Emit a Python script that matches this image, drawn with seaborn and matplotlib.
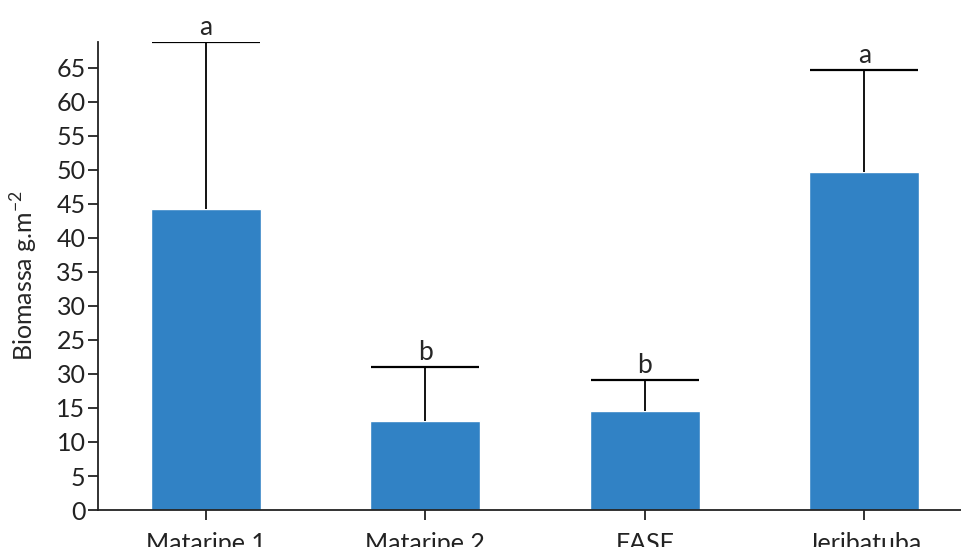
import matplotlib
matplotlib.use("Agg")

import matplotlib.pyplot as plt
import seaborn as sns
import pandas as pd

sites = ["Mataripe 1", "Mataripe 2", "FASF", "Jeribatuba"]
biomass = [44.3, 13.1, 14.6, 49.7]
err_up = [24.5, 7.9, 4.5, 15.0]
letters = ["a", "b", "b", "a"]
yticks = [0, 5, 10, 15, 20, 25, 30, 35, 40, 45, 50, 55, 60, 65]
# the original figure prints "30" at the 20 mark
ytick_labels = ["0", "5", "10", "15", "30", "25", "30", "35", "40", "45",
                "50", "55", "60", "65"]

sns.set_theme(style="ticks")
plt.rcParams["font.family"] = ["Lato", "DejaVu Sans"]

df = pd.DataFrame({"site": sites, "biomass": biomass})

fig = plt.figure(figsize=(9.61, 5.47), dpi=100)
ax = fig.add_axes([0.102, 0.0676, 0.898, 0.8556])

sns.barplot(data=df, x="site", y="biomass", color="#3182c5", saturation=1,
            width=0.5, ax=ax)
eb = ax.errorbar(range(len(sites)), biomass, yerr=[[0] * len(sites), err_up],
                 fmt="none", ecolor="black", elinewidth=1.3, capsize=39,
                 capthick=1.6)
# keep only the upper caps
eb.lines[1][0].remove()
for i, (v, e, t) in enumerate(zip(biomass, err_up, letters)):
    ax.text(i, v + e + 0.3, t, ha="center", va="bottom", fontsize=19)

ax.set_ylim(0, 68.8)
ax.set_xlim(-0.49, 3.44)
ax.set_yticks(yticks)
ax.set_yticklabels(ytick_labels)
ax.tick_params(axis="both", labelsize=18, length=7, width=1.3,
               colors="#222222")
ax.tick_params(axis="x", pad=9)
ax.tick_params(axis="y", pad=2)
ax.set_xlabel("")
ax.set_ylabel("Biomassa g.m$^{\\mathregular{-2}}$", fontsize=18, labelpad=12)
for s in ["top", "right"]:
    ax.spines[s].set_visible(False)
for s in ["left", "bottom"]:
    ax.spines[s].set_linewidth(1.3)
    ax.spines[s].set_color("#222222")

fig.savefig("out.png", dpi=100)
